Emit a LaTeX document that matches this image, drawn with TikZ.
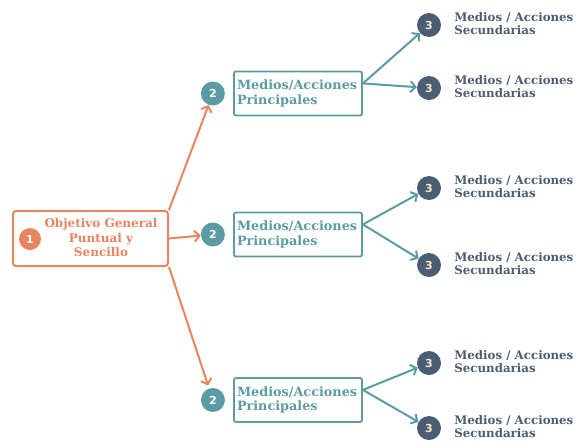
\documentclass[tikz,border=0pt]{standalone}
\usepackage{fontspec}
\setmainfont{DejaVu Serif}
\setsansfont{DejaVu Sans}
\usepackage{xcolor}
\usepackage{tikz}
\usetikzlibrary{positioning,calc,arrows.meta}

\definecolor{objorange}{HTML}{E8845E}
\definecolor{medteal}{HTML}{5B9CA4}
\definecolor{secnavy}{HTML}{4B5D73}
\definecolor{numcream}{HTML}{F6E8C8}

\begin{document}
\begin{tikzpicture}[
    x=1pt, y=-1pt,
    objbox/.style={rectangle, draw=objorange, line width=2pt, rounded corners=3pt, minimum width=155pt, minimum height=55pt},
    objtext/.style={text=objorange, font=\fontsize{12}{14.5}\selectfont\bfseries, align=center},
    medbox/.style={rectangle, draw=medteal, line width=1.8pt, rounded corners=2pt, text=medteal, text width=122pt, inner xsep=3pt, minimum height=44pt, align=left, font=\fontsize{12.8}{14.5}\selectfont\bfseries},
    sectext/.style={text=secnavy, align=left, inner sep=0pt, anchor=west, font=\fontsize{11.8}{13}\selectfont\bfseries},
    numdot/.style={circle, inner sep=0pt, minimum size=#1, font=\sffamily\bfseries\fontsize{11}{11}\selectfont},
    onedot/.style={numdot=22pt, fill=objorange, text=white},
    twodot/.style={numdot=24pt, fill=medteal, text=white},
    threedot/.style={numdot=24pt, fill=secnavy, text=numcream},
    orangearrow/.style={draw=objorange, line width=2pt, -{Straight Barb[length=5pt, width=11pt]}},
    tealarrow/.style={draw=medteal, line width=2pt, -{Straight Barb[length=5pt, width=11pt]}}
]
\useasboundingbox (0,0) rectangle (576,445);

% General objective
\node[objbox] (obj) at (90.5,238.5) {};
\node[onedot] (one) at (30,239) {1};
\node[objtext] (objtxt) at (101,238) {Objetivo General\\Puntual y\\Sencillo};

% Principal means
\node[medbox] (med1) at (298,93.5) {Medios/Acciones\\Principales};
\node[medbox] (med2) at (298,234.5) {Medios/Acciones\\Principales};
\node[medbox] (med3) at (298,400) {Medios/Acciones\\Principales};
\node[twodot, left=8pt of med1] (two1) {2};
\node[twodot, left=8pt of med2] (two2) {2};
\node[twodot, left=8pt of med3] (two3) {2};

% Secondary means
\foreach \i/\y in {1/25, 2/88, 3/188, 4/265, 5/363, 6/428} {
    \node[threedot] (three\i) at (429,\y) {3};
    \node[sectext, right=13pt of three\i, yshift=1.5pt] (sec\i) {Medios / Acciones\\Secundarias};
}

% Arrows
\draw[orangearrow] (obj.north east) -- (two1);
\draw[orangearrow] (obj.east) -- (two2);
\draw[orangearrow, shorten >=3pt] (obj.south east) -- (two3);

\foreach \m/\a/\b in {1/1/2, 2/3/4, 3/5/6} {
    \coordinate (out\m) at ($(med\m.north east)!0.28!(med\m.south east)$);
    \draw[tealarrow] (out\m) -- (three\a);
    \draw[tealarrow] (out\m) -- (three\b);
}

\end{tikzpicture}
\end{document}
